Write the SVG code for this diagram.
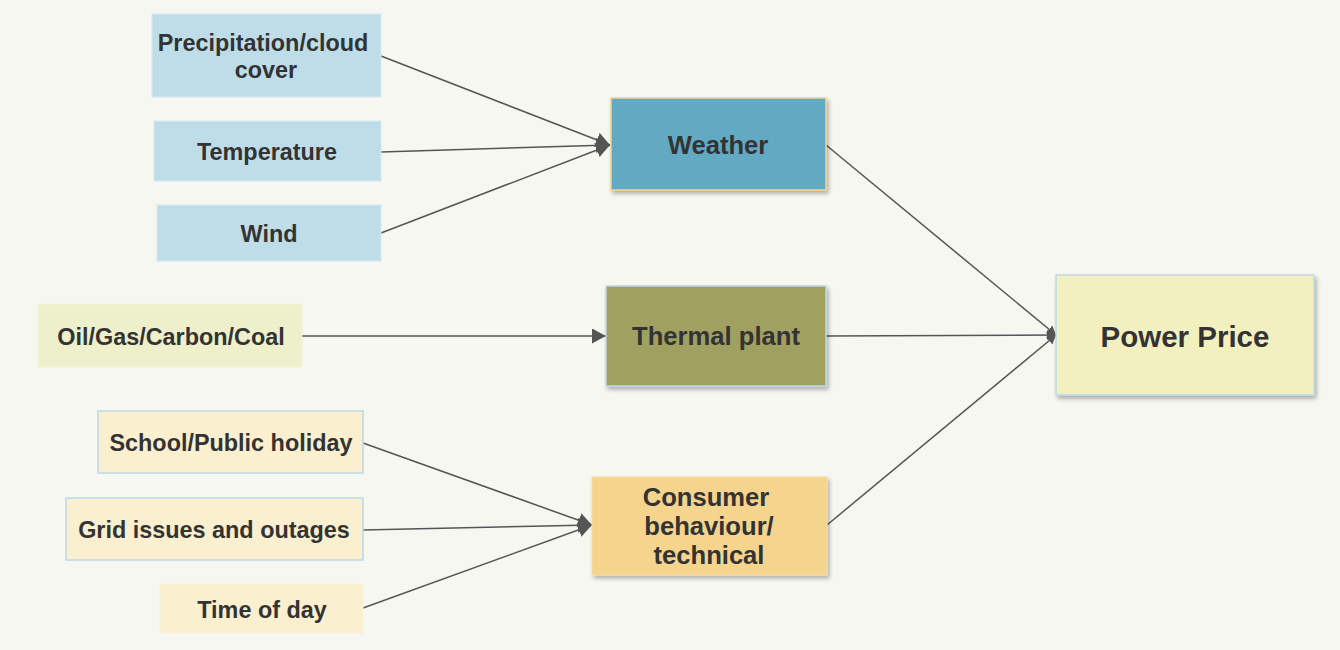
<svg xmlns="http://www.w3.org/2000/svg" width="1340" height="650" viewBox="0 0 1340 650">
<defs>
<style>
.t{font-family:"Liberation Sans",Arial,sans-serif;font-weight:bold;fill:#333333;text-anchor:middle;dominant-baseline:central}
.s{font-size:23.4px}
.m{font-size:25.6px}
.l{font-size:29.5px}
.c{stroke:#555555;stroke-width:1.5;fill:none;marker-end:url(#ah)}
.c2{stroke:#555555;stroke-width:1.5;fill:none;marker-end:url(#ah2)}
</style>
<marker id="ah" markerWidth="16" markerHeight="16" refX="14" refY="7.5" orient="auto" markerUnits="userSpaceOnUse">
<path d="M0,0 L14,7.5 L0,15 Z" fill="#555555"/>
</marker>
<marker id="ah2" markerWidth="12" markerHeight="12" refX="9" refY="5" orient="auto" markerUnits="userSpaceOnUse">
<path d="M0,0 L9,5 L0,10 Z" fill="#555555"/>
</marker>
<filter id="sh" x="-10%" y="-10%" width="125%" height="130%">
<feGaussianBlur in="SourceAlpha" stdDeviation="2"/>
<feOffset dx="2" dy="3"/>
<feComponentTransfer><feFuncA type="linear" slope="0.3"/></feComponentTransfer>
<feMerge><feMergeNode/><feMergeNode in="SourceGraphic"/></feMerge>
</filter>
</defs>
<rect x="0" y="0" width="1340" height="650" fill="#f7f7f2"/>
<g id="connectors">
<line class="c" x1="381" y1="56" x2="610" y2="145"/>
<line class="c" x1="381" y1="152" x2="610" y2="145"/>
<line class="c" x1="381" y1="233" x2="610" y2="145"/>
<line class="c" x1="302" y1="336" x2="606" y2="336"/>
<line class="c" x1="363" y1="443" x2="592" y2="525"/>
<line class="c" x1="363" y1="530" x2="592" y2="525"/>
<line class="c" x1="363" y1="608" x2="592" y2="525"/>
<line class="c2" x1="826" y1="145" x2="1056" y2="335"/>
<line class="c2" x1="826" y1="336" x2="1056" y2="335"/>
<line class="c2" x1="827" y1="525" x2="1056" y2="335"/>
</g>
<g id="precip">
<rect x="152" y="14" width="229" height="83" fill="#bedde9" stroke="#d6eaf2" stroke-width="1"/>
<text class="t s" x="263" y="43">Precipitation/cloud</text>
<text class="t s" x="266" y="70">cover</text>
</g>
<g id="temperature">
<rect x="154" y="121" width="227" height="60" fill="#bedde9" stroke="#d6eaf2" stroke-width="1"/>
<text class="t s" x="267" y="152">Temperature</text>
</g>
<g id="wind">
<rect x="157" y="205" width="224" height="56" fill="#bedde9" stroke="#d6eaf2" stroke-width="1"/>
<text class="t s" x="269" y="234">Wind</text>
</g>
<g id="weather">
<rect x="611" y="98" width="215" height="92" fill="#62aac3" stroke="#f3d48c" stroke-width="1.5" filter="url(#sh)"/>
<text class="t m" x="718" y="145">Weather</text>
</g>
<g id="oil">
<rect x="38" y="304" width="264" height="63" fill="#eef0cc" stroke="#f2f3d8" stroke-width="1"/>
<text class="t s" x="171" y="337">Oil/Gas/Carbon/Coal</text>
</g>
<g id="thermal">
<rect x="606" y="286" width="220" height="100" fill="#a0a061" stroke="#bcd9ea" stroke-width="1.5" filter="url(#sh)"/>
<text class="t m" x="716" y="336">Thermal plant</text>
</g>
<g id="power">
<rect x="1056" y="275" width="258" height="120" fill="#f3f0bf" stroke="#bcd9ea" stroke-width="1.5" filter="url(#sh)"/>
<text class="t l" x="1185" y="336">Power Price</text>
</g>
<g id="school">
<rect x="98" y="411" width="265" height="62" fill="#faf0d0" stroke="#bcd9ea" stroke-width="1.5"/>
<text class="t s" x="231" y="443">School/Public holiday</text>
</g>
<g id="grid">
<rect x="66" y="498" width="297" height="62" fill="#faf0d0" stroke="#bcd9ea" stroke-width="1.5"/>
<text class="t s" x="214" y="530">Grid issues and outages</text>
</g>
<g id="time">
<rect x="160" y="584" width="203" height="49" fill="#faf0d0" stroke="#faf0d8" stroke-width="1"/>
<text class="t s" x="262" y="610">Time of day</text>
</g>
<g id="consumer">
<rect x="592" y="477" width="235" height="98" fill="#f5d48d" stroke="#f6dba0" stroke-width="1" filter="url(#sh)"/>
<text class="t m" x="706" y="497">Consumer</text>
<text class="t m" x="709" y="526">behaviour/</text>
<text class="t m" x="709" y="555">technical</text>
</g>
</svg>
